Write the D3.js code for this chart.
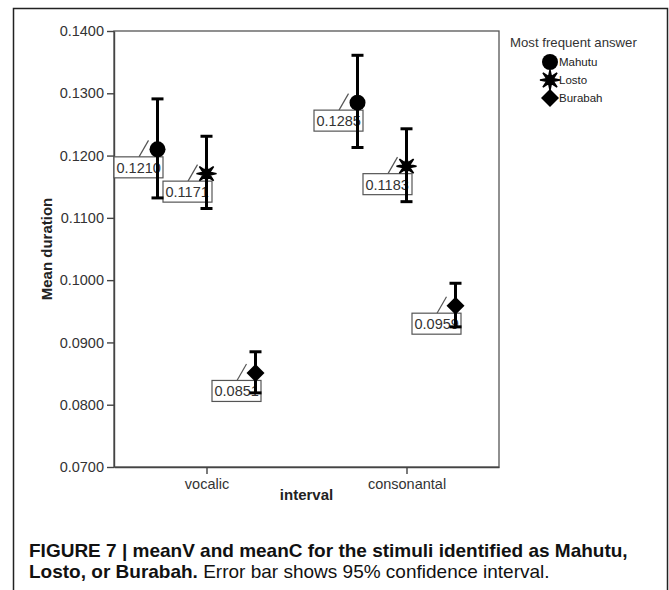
<!DOCTYPE html>
<html lang="en">
<head>
    <meta charset="UTF-8">
    <title>Figure 7</title>
    <script src="https://cdnjs.cloudflare.com/ajax/libs/d3/7.8.5/d3.min.js"></script>
    <style>
        body {
            margin: 0;
            background: white;
            font-family: "Liberation Sans", Arial, sans-serif;
        }
        svg {
            display: block;
        }
        .axis path, .axis line {
            stroke: #444;
            stroke-width: 1.4px;
        }
        .axis text {
            font-family: "Liberation Sans", Arial, sans-serif;
            font-size: 14.5px;
            fill: #333;
        }
    </style>
</head>
<body>
    <svg id="chart" width="669" height="590"></svg>

    <script>
        // data
        const categories = ["vocalic", "consonantal"];
        const series = ["Mahutu", "Losto", "Burabah"];
        const meanValues = {
            Mahutu:  [0.1210, 0.1285],
            Losto:   [0.1171, 0.1183],
            Burabah: [0.0851, 0.0959]
        };
        const ciLower = {
            Mahutu:  [0.1132, 0.1213],
            Losto:   [0.1115, 0.1126],
            Burabah: [0.0819, 0.0925]
        };
        const ciUpper = {
            Mahutu:  [0.1291, 0.1361],
            Losto:   [0.1231, 0.1243],
            Burabah: [0.0885, 0.0995]
        };
        const yTicks = [0.07, 0.08, 0.09, 0.10, 0.11, 0.12, 0.13, 0.14];

        const svg = d3.select("#chart");
        const plot = { left: 114, right: 499, top: 31, bottom: 467 };

        const x = d3.scalePoint()
            .domain(categories)
            .range([plot.left, plot.right])
            .padding(0.4625);

        const offset = d3.scalePoint()
            .domain(series)
            .range([-49, 49]);

        const y = d3.scaleLinear()
            .domain([0.07, 0.14])
            .range([plot.bottom, plot.top]);

        const fmt = d3.format(".4f");

        // outer frame (runs off the bottom of the page)
        svg.append("path")
            .attr("d", "M13.5,600 V8.5 H667.5 V600")
            .attr("fill", "none")
            .attr("stroke", "#222")
            .attr("stroke-width", 1.5);

        // plot box
        svg.append("rect")
            .attr("x", plot.left)
            .attr("y", plot.top)
            .attr("width", plot.right - plot.left)
            .attr("height", plot.bottom - plot.top)
            .attr("fill", "none")
            .attr("stroke", "#555")
            .attr("stroke-width", 1.3);

        svg.append("g")
            .attr("class", "axis")
            .attr("transform", `translate(${plot.left},0)`)
            .call(d3.axisLeft(y).tickValues(yTicks).tickFormat(fmt).tickSize(7).tickPadding(3).tickSizeOuter(0));

        svg.append("g")
            .attr("class", "axis")
            .attr("transform", `translate(0,${plot.bottom})`)
            .call(d3.axisBottom(x).tickSize(7).tickPadding(5).tickSizeOuter(0));

        // axis titles
        svg.append("text")
            .attr("x", (plot.left + plot.right) / 2 + 0)
            .attr("y", 500)
            .attr("text-anchor", "middle")
            .attr("font-size", "15px")
            .attr("font-weight", "bold")
            .attr("fill", "#222")
            .text("interval");

        svg.append("text")
            .attr("transform", `translate(52,${(plot.top + plot.bottom) / 2}) rotate(-90)`)
            .attr("text-anchor", "middle")
            .attr("font-size", "15px")
            .attr("font-weight", "bold")
            .attr("fill", "#222")
            .text("Mean duration");

        // marker shapes
        function starPath(ro, ri, n) {
            const pts = d3.range(n * 2).map(i => {
                const a = i * Math.PI / n - Math.PI / 2;
                const r = i % 2 === 0 ? ro : ri;
                return [r * Math.cos(a), r * Math.sin(a)];
            });
            return "M" + pts.join("L") + "Z";
        }
        const markerPath = {
            Mahutu: d3.symbol(d3.symbolCircle, Math.PI * 8 * 8)(),
            Losto: starPath(10, 3.6, 8),
            Burabah: "M0,-9L9,0L0,9L-9,0Z"
        };

        const points = [];
        series.forEach(s => {
            categories.forEach((c, i) => {
                points.push({
                    series: s,
                    cat: c,
                    mean: meanValues[s][i],
                    lo: ciLower[s][i],
                    hi: ciUpper[s][i]
                });
            });
        });

        const px = d => x(d.cat) + offset(d.series);

        // value labels
        const labels = svg.append("g").selectAll("g")
            .data(points)
            .enter()
            .append("g")
            .attr("transform", d => `translate(${px(d) + 5.5 - 49},${y(d.mean) + 7.5})`);

        labels.append("line")
            .attr("x1", 25)
            .attr("y1", 0)
            .attr("x2", 49 - 5.5 - 9)
            .attr("y2", -7.5 - 9)
            .attr("stroke", "#555")
            .attr("stroke-width", 1.2);

        labels.append("rect")
            .attr("width", 49)
            .attr("height", 21)
            .attr("fill", "white")
            .attr("stroke", "#555")
            .attr("stroke-width", 1.2);

        labels.append("text")
            .attr("x", 2.5)
            .attr("y", 16)
            .attr("font-size", "14.5px")
            .attr("fill", "#333")
            .text(d => fmt(d.mean));

        // error bars
        const bars = svg.append("g")
            .attr("stroke", "#000")
            .attr("stroke-width", 3)
            .selectAll("g")
            .data(points)
            .enter()
            .append("g");

        bars.append("line")
            .attr("x1", px).attr("x2", px)
            .attr("y1", d => y(d.lo)).attr("y2", d => y(d.hi));
        bars.append("line")
            .attr("x1", d => px(d) - 6).attr("x2", d => px(d) + 6)
            .attr("y1", d => y(d.hi)).attr("y2", d => y(d.hi));
        bars.append("line")
            .attr("x1", d => px(d) - 6).attr("x2", d => px(d) + 6)
            .attr("y1", d => y(d.lo)).attr("y2", d => y(d.lo));

        // markers
        svg.append("g").selectAll("path")
            .data(points)
            .enter()
            .append("path")
            .attr("d", d => markerPath[d.series])
            .attr("transform", d => `translate(${px(d)},${y(d.mean)})`)
            .attr("fill", "#000")
            .attr("stroke", "#000")
            .attr("stroke-width", d => d.series === "Losto" ? 1.5 : 0);

        // legend
        const legend = svg.append("g").attr("transform", "translate(510,0)");
        legend.append("text")
            .attr("x", 0)
            .attr("y", 47)
            .attr("font-size", "13.2px")
            .attr("fill", "#333")
            .text("Most frequent answer");

        const items = legend.selectAll("g.item")
            .data(series)
            .enter()
            .append("g")
            .attr("class", "item")
            .attr("transform", (d, i) => `translate(40,${62 + i * 18})`);

        items.append("path")
            .attr("d", d => markerPath[d])
            .attr("fill", "#000")
            .attr("stroke", "#000")
            .attr("stroke-width", d => d === "Losto" ? 1.5 : 0);

        items.append("text")
            .attr("x", 9)
            .attr("y", 4)
            .attr("font-size", "11.5px")
            .attr("fill", "#222")
            .text(d => d);

        // caption
        const cap1 = svg.append("text")
            .attr("x", 29)
            .attr("y", 557)
            .attr("font-size", "19px")
            .attr("font-weight", "bold")
            .attr("fill", "#111")
            .text("FIGURE 7 | meanV and meanC for the stimuli identified as Mahutu,");

        const cap2 = svg.append("text")
            .attr("x", 29)
            .attr("y", 578)
            .attr("font-size", "19px")
            .attr("fill", "#111");
        cap2.append("tspan")
            .attr("font-weight", "bold")
            .text("Losto, or Burabah.");
        cap2.append("tspan")
            .text(" Error bar shows 95% confidence interval.");
    </script>
</body>
</html>
